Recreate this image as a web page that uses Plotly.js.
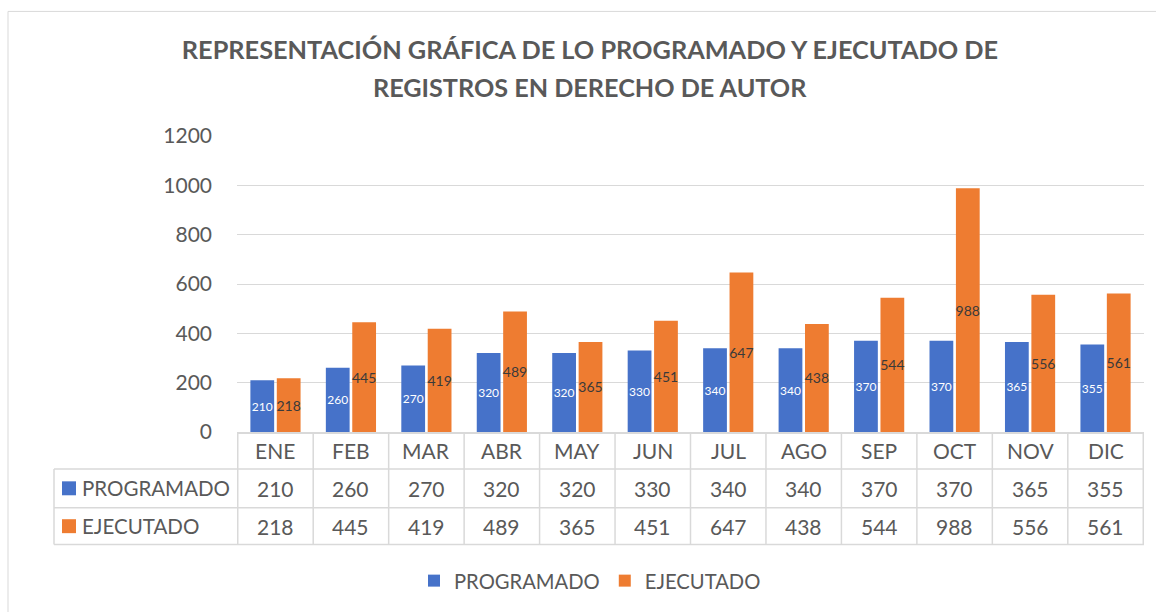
<!DOCTYPE html>
<html>
<head>
<meta charset="utf-8">
<script src="https://cdn.plot.ly/plotly-3.0.1.min.js"></script>
<style>
  html, body { margin: 0; padding: 0; background: #ffffff; }
  #chart { width: 1156px; height: 612px; }
</style>
</head>
<body>
<div id="chart"></div>
<script>
// ---- Data ----
const categories = ['ENE', 'FEB', 'MAR', 'ABR', 'MAY', 'JUN', 'JUL', 'AGO', 'SEP', 'OCT', 'NOV', 'DIC'];
const programado = [210, 260, 270, 320, 320, 330, 340, 340, 370, 370, 365, 355];
const ejecutado = [218, 445, 419, 489, 365, 451, 647, 438, 544, 988, 556, 561];
const seriesNames = ['PROGRAMADO', 'EJECUTADO'];
const yTickValues = [0, 200, 400, 600, 800, 1000, 1200];
const titleLines = ['REPRESENTACIÓN GRÁFICA DE LO PROGRAMADO Y EJECUTADO DE', 'REGISTROS EN DERECHO DE AUTOR'];

// ---- Geometry / style ----
const W = 1156, H = 612;
const L = 237, R = 1144, T = 136, B = 433;
const PW = R - L, PH = B - T;
const px2x = p => (p - L) / PW;
const py2y = p => (B - p) / PH;

const FONT = 'Lato, "Open Sans", "Liberation Sans", sans-serif';
const TXT = '#595959';
const GRID = '#d9d9d9';
const BLUE = '#4672c9';
const ORANGE = '#ee7c31';

const traces = [
  {
    type: 'bar', name: seriesNames[0], x: categories, y: programado,
    text: programado.map(String), textposition: 'inside', insidetextanchor: 'middle',
    textangle: 0, constraintext: 'none',
    textfont: { family: FONT, size: 12, color: '#ffffff' },
    marker: { color: BLUE }, hoverinfo: 'none'
  },
  {
    type: 'bar', name: seriesNames[1], x: categories, y: ejecutado,
    text: ejecutado.map(String), textposition: 'inside', insidetextanchor: 'middle',
    textangle: 0, constraintext: 'none',
    textfont: { family: FONT, size: 14, color: '#3a3a3a' },
    marker: { color: ORANGE }, hoverinfo: 'none'
  }
];

// ---- Data table (shapes + annotations) ----
const rowHeader = [433, 470];
const rowProg = [470, 509];
const rowEjec = [509, 546];
const tableLeft = 54;
const mid = r => (r[0] + r[1]) / 2;

const shapes = [];
const line = (x0, y0, x1, y1, xref) => ({
  type: 'line', xref: xref || 'paper', yref: 'paper',
  x0: x0, x1: x1, y0: y0, y1: y1,
  line: { color: GRID, width: 1.5 }, layer: 'above'
});
// horizontal lines
[470, 509, 546].forEach(p => shapes.push(line(px2x(tableLeft), py2y(p), px2x(R), py2y(p))));
// left vertical of row-label column
shapes.push(line(px2x(tableLeft), py2y(470), px2x(tableLeft), py2y(546)));
// category boundaries
for (let i = 0; i <= categories.length; i++) {
  shapes.push(line(i - 0.5, py2y(433), i - 0.5, py2y(546), 'x'));
}
// legend keys inside table
const keyRect = (cy, color) => ({
  type: 'rect', xref: 'paper', yref: 'paper',
  x0: px2x(62), x1: px2x(76), y0: py2y(cy + 7), y1: py2y(cy - 7),
  fillcolor: color, line: { width: 0 }, layer: 'above'
});
shapes.push(keyRect(mid(rowProg), BLUE));
shapes.push(keyRect(mid(rowEjec), ORANGE));
// outer chart border
shapes.push({
  type: 'rect', xref: 'paper', yref: 'paper',
  x0: px2x(8), x1: px2x(1180), y0: py2y(640), y1: py2y(11),
  line: { color: GRID, width: 1 }, fillcolor: 'rgba(0,0,0,0)', layer: 'below'
});

const annotations = [];
const cell = (x, yp, text, xref, xanchor, size) => ({
  xref: xref || 'x', yref: 'paper', x: x, y: py2y(yp), text: text,
  showarrow: false, xanchor: xanchor || 'center', yanchor: 'middle',
  font: { family: FONT, size: size || 21, color: TXT }
});
categories.forEach((c, i) => {
  annotations.push(cell(c, mid(rowHeader), c));
  annotations.push(cell(c, mid(rowProg), String(programado[i])));
  annotations.push(cell(c, mid(rowEjec), String(ejecutado[i])));
});
annotations.push(cell(px2x(80), mid(rowProg), seriesNames[0], 'paper', 'left', 20.5));
annotations.push(cell(px2x(80), mid(rowEjec), seriesNames[1], 'paper', 'left', 20.5));
// second title line
annotations.push({
  xref: 'paper', yref: 'paper', x: px2x(590), y: py2y(87), text: titleLines[1],
  showarrow: false, xanchor: 'center', yanchor: 'middle',
  font: { family: FONT, size: 25.2, color: TXT, weight: 'bold' }
});

const layout = {
  width: W, height: H,
  margin: { l: L, r: W - R, t: T, b: H - B, pad: 0 },
  paper_bgcolor: '#ffffff', plot_bgcolor: '#ffffff',
  font: { family: FONT, color: TXT },
  title: {
    text: titleLines[0], xref: 'container', yref: 'container',
    x: 590 / W, xanchor: 'center', y: 1 - 50 / H, yanchor: 'middle',
    font: { family: FONT, size: 25.3, color: TXT, weight: 'bold' }
  },
  barmode: 'group', bargap: 0.3, bargroupgap: 0.1,
  xaxis: {
    type: 'category', showticklabels: false, ticks: '',
    showgrid: false, showline: true, linecolor: GRID, linewidth: 1.5,
    zeroline: false, fixedrange: true
  },
  yaxis: {
    range: [0, 1200], tickvals: yTickValues, ticktext: yTickValues.map(String),
    showgrid: true, gridcolor: GRID, gridwidth: 1, zeroline: false,
    showline: false, ticks: '', ticklabelstandoff: 24,
    tickfont: { family: FONT, size: 21, color: TXT }, fixedrange: true
  },
  showlegend: true,
  legend: {
    orientation: 'h', xref: 'paper', yref: 'paper',
    x: px2x(590), xanchor: 'center', y: py2y(581), yanchor: 'middle',
    font: { family: FONT, size: 20.2, color: TXT }, traceorder: 'normal',
    bgcolor: 'rgba(0,0,0,0)'
  },
  shapes: shapes,
  annotations: annotations
};

Plotly.newPlot('chart', traces, layout, { displayModeBar: false, staticPlot: true });
</script>
</body>
</html>
